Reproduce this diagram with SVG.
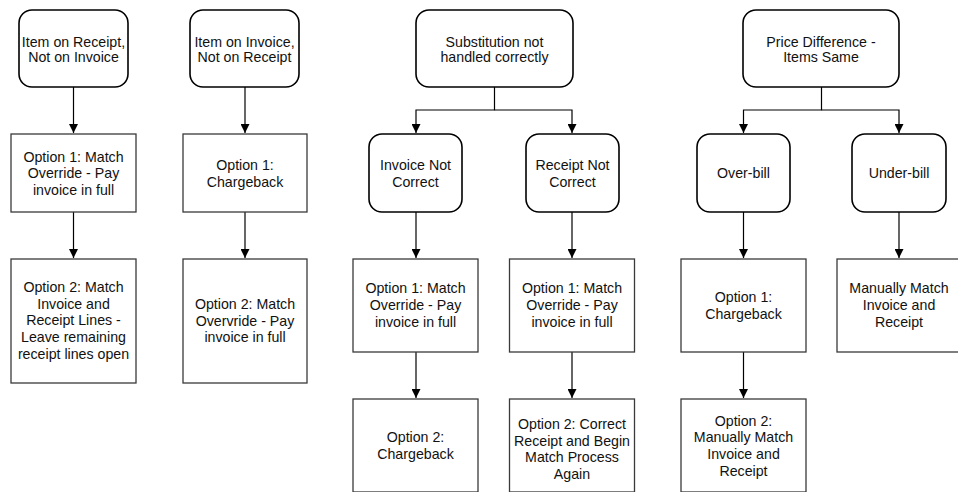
<svg xmlns="http://www.w3.org/2000/svg" width="958" height="492" viewBox="0 0 958 492">
  <defs>
    <style>
      .term { fill: #fff; stroke: #000; stroke-width: 1.6; }
      .step { fill: #fff; stroke: #3a3a3a; stroke-width: 1.3; }
      .wire { fill: none; stroke: #000; stroke-width: 1.2; }
      text { font-family: "Liberation Sans", Arial, sans-serif; font-size: 14.2px; fill: #111; text-anchor: middle; }
    </style>
    <marker id="arrow" markerUnits="userSpaceOnUse" markerWidth="10" markerHeight="9" refX="9" refY="4.5" orient="auto">
      <path d="M0,0 L9,4.5 L0,9 Z" fill="#000"/>
    </marker>
  </defs>
  <rect width="958" height="492" fill="#fff"/>

  <!-- connectors -->
  <g id="connectors" class="wire" marker-end="url(#arrow)">
    <path d="M73.5,87 V133"/>
    <path d="M73.5,212 V258"/>
    <path d="M245,87 V133"/>
    <path d="M245,212 V258"/>
    <path d="M494.5,87 V110 H416 V133"/>
    <path d="M494.5,110 H572 V133"/>
    <path d="M416,212 V258"/>
    <path d="M416,352 V398"/>
    <path d="M572,212 V258"/>
    <path d="M572,352 V398"/>
    <path d="M821.5,87 V110 H743.5 V133"/>
    <path d="M821.5,110 H899 V133"/>
    <path d="M743.5,212 V258"/>
    <path d="M743.5,352 V398"/>
    <path d="M899,212 V258"/>
  </g>

  <!-- column 1 -->
  <g id="receipt-not-invoice">
    <rect class="term" x="19" y="10" width="109" height="77" rx="13"/>
    <text x="73.5" y="46.5">Item on Receipt,</text>
    <text x="73.5" y="62">Not on Invoice</text>
  </g>
  <g id="col1-option1">
    <rect class="step" x="11" y="134" width="125" height="78"/>
    <text x="73.5" y="161.5">Option 1:  Match</text>
    <text x="73.5" y="178.2">Override - Pay</text>
    <text x="73.5" y="194.9">invoice in full</text>
  </g>
  <g id="col1-option2">
    <rect class="step" x="11" y="259" width="125" height="124"/>
    <text x="73.5" y="292">Option 2:  Match</text>
    <text x="73.5" y="308.7">Invoice and</text>
    <text x="73.5" y="325.4">Receipt Lines -</text>
    <text x="73.5" y="342.1">Leave remaining</text>
    <text x="73.5" y="358.8">receipt lines open</text>
  </g>

  <!-- column 2 -->
  <g id="invoice-not-receipt">
    <rect class="term" x="190" y="10" width="109" height="77" rx="13"/>
    <text x="244.5" y="46.5">Item on Invoice,</text>
    <text x="244.5" y="62">Not on Receipt</text>
  </g>
  <g id="col2-option1">
    <rect class="step" x="183" y="134" width="124" height="78"/>
    <text x="245" y="170">Option 1:</text>
    <text x="245" y="186.7">Chargeback</text>
  </g>
  <g id="col2-option2">
    <rect class="step" x="183" y="259" width="124" height="124"/>
    <text x="245" y="308.8">Option 2:  Match</text>
    <text x="245" y="325.5">Overvride - Pay</text>
    <text x="245" y="342.2">invoice in full</text>
  </g>

  <!-- substitution -->
  <g id="substitution">
    <rect class="term" x="416" y="10" width="157" height="77" rx="13"/>
    <text x="494.5" y="46.5">Substitution not</text>
    <text x="494.5" y="62">handled correctly</text>
  </g>
  <g id="invoice-not-correct">
    <rect class="term" x="369" y="134" width="93" height="78" rx="13"/>
    <text x="415.5" y="170">Invoice Not</text>
    <text x="415.5" y="186.7">Correct</text>
  </g>
  <g id="receipt-not-correct">
    <rect class="term" x="526" y="134" width="93" height="78" rx="13"/>
    <text x="572.5" y="170">Receipt Not</text>
    <text x="572.5" y="186.7">Correct</text>
  </g>
  <g id="inv-option1">
    <rect class="step" x="353" y="259" width="125" height="93"/>
    <text x="415.5" y="293.3">Option 1:  Match</text>
    <text x="415.5" y="310">Override - Pay</text>
    <text x="415.5" y="326.7">invoice in full</text>
  </g>
  <g id="inv-option2">
    <rect class="step" x="353" y="399" width="125" height="93"/>
    <text x="415.5" y="442">Option 2:</text>
    <text x="415.5" y="458.7">Chargeback</text>
  </g>
  <g id="rec-option1">
    <rect class="step" x="509.5" y="259" width="125" height="93"/>
    <text x="572" y="293.3">Option 1:  Match</text>
    <text x="572" y="310">Override - Pay</text>
    <text x="572" y="326.7">invoice in full</text>
  </g>
  <g id="rec-option2">
    <rect class="step" x="509.5" y="399" width="125" height="93"/>
    <text x="572" y="429">Option 2:  Correct</text>
    <text x="572" y="445.7">Receipt and Begin</text>
    <text x="572" y="462.4">Match Process</text>
    <text x="572" y="479.1">Again</text>
  </g>

  <!-- price difference -->
  <g id="price-difference">
    <rect class="term" x="743" y="10" width="156" height="77" rx="13"/>
    <text x="821" y="46.5">Price Difference -</text>
    <text x="821" y="62">Items Same</text>
  </g>
  <g id="over-bill">
    <rect class="term" x="697" y="134" width="93" height="78" rx="13"/>
    <text x="743.5" y="178.3">Over-bill</text>
  </g>
  <g id="under-bill">
    <rect class="term" x="852" y="134" width="94" height="78" rx="13"/>
    <text x="899" y="178.3">Under-bill</text>
  </g>
  <g id="over-option1">
    <rect class="step" x="681" y="259" width="125" height="93"/>
    <text x="743.5" y="302">Option 1:</text>
    <text x="743.5" y="318.7">Chargeback</text>
  </g>
  <g id="over-option2">
    <rect class="step" x="681" y="399" width="125" height="93"/>
    <text x="743.5" y="425.7">Option 2:</text>
    <text x="743.5" y="442.4">Manually Match</text>
    <text x="743.5" y="459.1">Invoice and</text>
    <text x="743.5" y="475.8">Receipt</text>
  </g>
  <g id="under-match">
    <rect class="step" x="837" y="259" width="125" height="93"/>
    <text x="899" y="293.3">Manually Match</text>
    <text x="899" y="310">Invoice and</text>
    <text x="899" y="326.7">Receipt</text>
  </g>
</svg>
